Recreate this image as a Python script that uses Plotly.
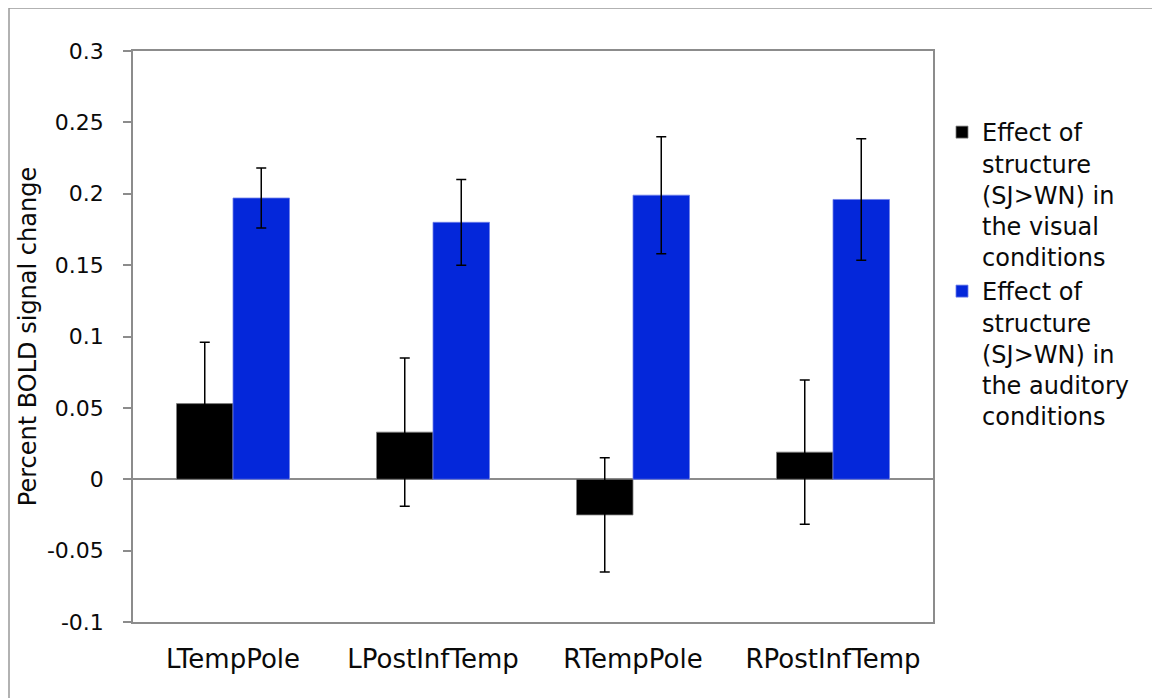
import plotly.graph_objects as go

categories = ["LTempPole", "LPostInfTemp", "RTempPole", "RPostInfTemp"]
visual_values = [0.053, 0.033, -0.025, 0.019]
visual_errors = [0.043, 0.052, 0.040, 0.0505]
auditory_values = [0.197, 0.180, 0.199, 0.196]
auditory_errors = [0.021, 0.030, 0.041, 0.0425]
series_names = [
    "Effect of<br>structure<br>(SJ>WN) in<br>the visual<br>conditions",
    "Effect of<br>structure<br>(SJ>WN) in<br>the auditory<br>conditions",
]
y_ticks = [-0.1, -0.05, 0, 0.05, 0.1, 0.15, 0.2, 0.25, 0.3]
y_tick_labels = ["-0.1", "-0.05", "0", "0.05", "0.1", "0.15", "0.2", "0.25", "0.3"]

FONT = "DejaVu Sans, Verdana, sans-serif"
GRAY = "#8c8c8c"
TXT = "#0a0a0a"

fig = go.Figure()
fig.add_trace(go.Bar(
    x=categories, y=visual_values, name=series_names[0],
    marker=dict(color="#000000", line=dict(color="#7f7f7f", width=0.8)),
    error_y=dict(type="data", array=visual_errors, visible=True,
                 color="#000000", thickness=1.5, width=5),
))
fig.add_trace(go.Bar(
    x=categories, y=auditory_values, name=series_names[1],
    marker=dict(color="#0427DA", line=dict(color="#6f7fe8", width=0.8)),
    error_y=dict(type="data", array=auditory_errors, visible=True,
                 color="#000000", thickness=1.5, width=5),
))

# the page body has an 8px margin; the figure is sized so it sits inside the window
OFF = 8
W, H = 1160 - OFF, 698 - OFF
L, T = 133 - OFF, 51 - OFF
pw, ph = 800, 571
R, B = W - L - pw, H - T - ph

def px_x(p):
    return (p - OFF - L) / pw

def px_y(p):
    return (H - B - (p - OFF)) / ph

fig.update_layout(
    width=W, height=H,
    margin=dict(l=L, r=R, t=T, b=B),
    paper_bgcolor="white", plot_bgcolor="white",
    barmode="group", bargap=0.435, bargroupgap=0,
    font=dict(family=FONT, size=22, color=TXT),
    showlegend=True,
    legend=dict(
        x=px_x(942), xanchor="left", y=px_y(110), yanchor="top",
        font=dict(family=FONT, size=24, color=TXT),
        valign="top", tracegroupgap=10, itemwidth=30,
        bgcolor="rgba(0,0,0,0)",
    ),
    xaxis=dict(
        showline=True, linecolor=GRAY, linewidth=1.5, mirror=True,
        ticks="", showgrid=False,
        tickfont=dict(family=FONT, size=26, color=TXT),
        ticklabelstandoff=13,
    ),
    yaxis=dict(
        range=[-0.1, 0.3], tickmode="array", tickvals=y_ticks, ticktext=y_tick_labels,
        showline=True, linecolor=GRAY, linewidth=1.5, mirror=True,
        ticks="outside", ticklen=8, tickcolor=GRAY, tickwidth=1.5,
        showgrid=False, zeroline=True, zerolinecolor=GRAY, zerolinewidth=1.5,
        tickfont=dict(family=FONT, size=22, color=TXT),
        ticklabelstandoff=15,
        title=dict(text="Percent BOLD signal change",
                   font=dict(family=FONT, size=24, color=TXT), standoff=4),
    ),
    shapes=[dict(
        type="rect", xref="paper", yref="paper",
        x0=px_x(9), x1=px_x(1175), y0=px_y(712), y1=px_y(8),
        line=dict(color="#999999", width=1.5), fillcolor="rgba(0,0,0,0)", layer="below",
    )],
)

fig.write_html("out.html")
